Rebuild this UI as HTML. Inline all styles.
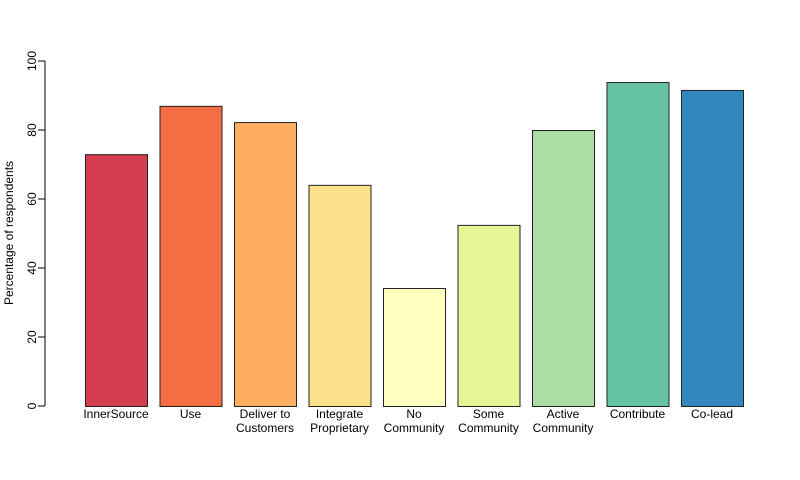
<!DOCTYPE html>
<html><head><meta charset="utf-8"><style>
body{margin:0;background:#fff}
svg{display:block;font-family:"Liberation Sans",sans-serif}
</style></head><body>
<svg id="chart" width="800" height="480">
<g id="axis"></g>
<g id="bars"></g>
<g id="labels"></g>
<text x="13" y="233" font-size="12" text-anchor="middle" transform="rotate(-90 13 233)">Percentage of respondents</text>
</svg>
<script>
const categories = [["InnerSource"],["Use"],["Deliver to","Customers"],["Integrate","Proprietary"],["No","Community"],["Some","Community"],["Active","Community"],["Contribute"],["Co-lead"]];
const values = [73.0, 87.0, 82.3, 64.1, 34.2, 52.5, 80.0, 93.9, 91.6];
const colors = ["#D53E4F","#F46D43","#FDAE61","#FEE08B","#FFFFBF","#E6F598","#ABDDA4","#66C2A5","#3288BD"];
const ticks = [0,20,40,60,80,100];
const NS="http://www.w3.org/2000/svg";
const y0=406, y100=61;
const yScale=v=>y0-(y0-y100)*v/100;
const xLeft=i=>85+i*74.5;
const bw=62;
function mk(tag,attrs,parent){const e=document.createElementNS(NS,tag);for(const k in attrs)e.setAttribute(k,attrs[k]);parent.appendChild(e);return e;}
const axis=document.getElementById('axis');
mk('line',{x1:45,x2:45,y1:yScale(0),y2:yScale(100),stroke:'#000'},axis);
ticks.forEach(t=>{
  const l=mk('line',{x1:38,x2:45,y1:yScale(t),y2:yScale(t),stroke:'#000'},axis);
  
  
  const tx=mk('text',{x:41,y:yScale(t),'font-size':12,'text-anchor':'middle',transform:`rotate(-90 41 ${yScale(t)})`,dy:-5},axis);
  tx.textContent=t;
  
  
});
const bars=document.getElementById('bars'), labels=document.getElementById('labels');
values.forEach((v,i)=>{
  const r=mk('rect',{x:xLeft(i)+0.5,y:yScale(v)+0.5,width:bw,height:yScale(0)-yScale(v),fill:colors[i],stroke:'#222','stroke-width':1},bars);
  
  
  categories[i].forEach((line,j)=>{
    const t=mk('text',{x:xLeft(i)+bw/2,y:418+j*14,'font-size':12,'text-anchor':'middle'},labels);
    t.textContent=line;
    
    
  });
});
</script>
</body></html>
